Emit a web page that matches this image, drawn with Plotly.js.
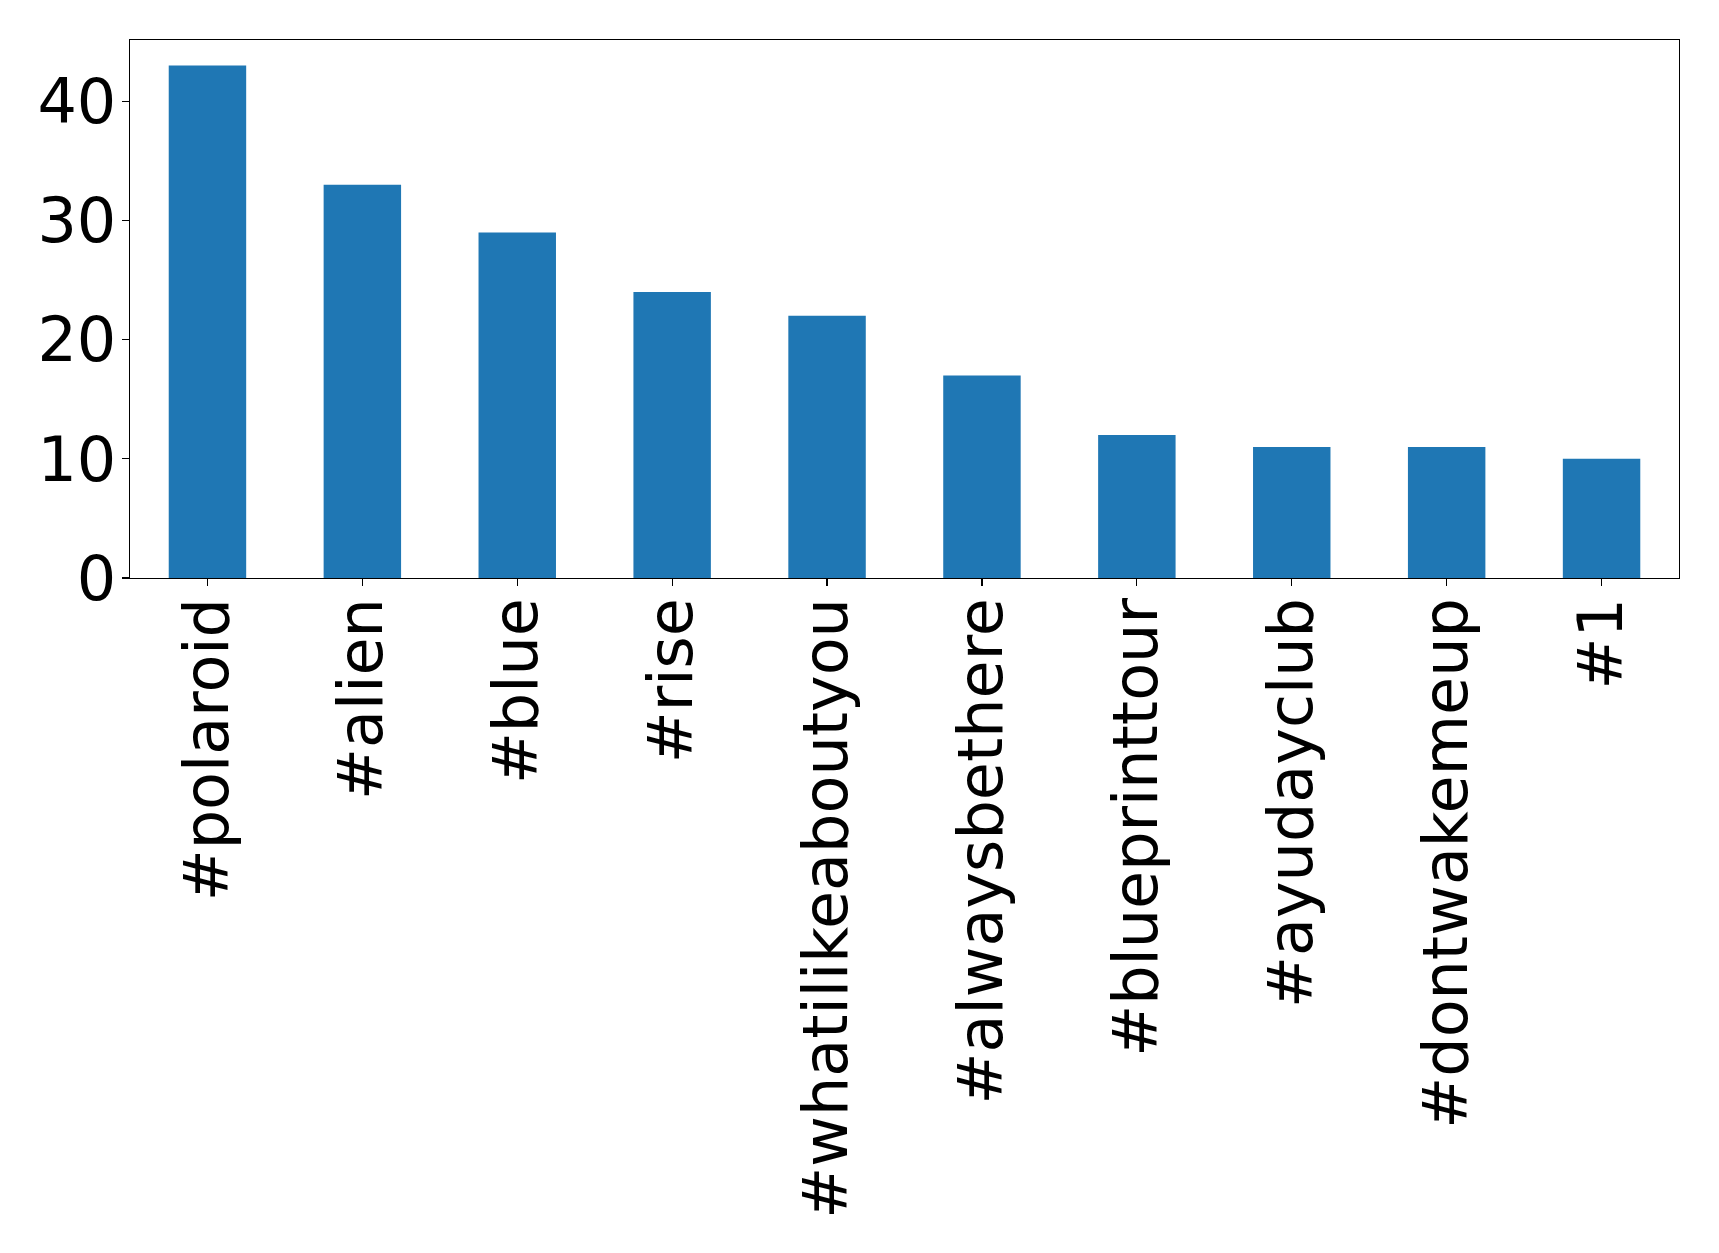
<!DOCTYPE html>
<html>
<head>
<meta charset="utf-8">
<script src="https://cdn.plot.ly/plotly-3.0.1.min.js"></script>
<style>html,body{margin:0;padding:0;background:#fff;}#chart{width:1719px;height:1253px;}</style>
</head>
<body>
<div id="chart"></div>
<script>
const categories = ["#polaroid", "#alien", "#blue", "#rise", "#whatilikeaboutyou", "#alwaysbethere", "#blueprinttour", "#ayudayclub", "#dontwakemeup", "#1"];
const counts = [43, 33, 29, 24, 22, 17, 12, 11, 11, 10];
const yTicks = [0, 10, 20, 30, 40];

const trace = {
  type: "bar",
  x: categories,
  y: counts,
  width: 0.5,
  marker: {color: "#1f77b4", line: {width: 0}},
  hoverinfo: "x+y"
};

const layout = {
  width: 1719,
  height: 1253,
  paper_bgcolor: "#ffffff",
  plot_bgcolor: "#ffffff",
  showlegend: false,
  margin: {l: 130, r: 40, t: 40, b: 675, pad: 0},
  font: {family: "DejaVu Sans", color: "#000000", size: 62},
  bargap: 0.5,
  xaxis: {
    type: "category",
    range: [-0.5, 9.5],
    tickangle: -90,
    ticks: "outside",
    ticklen: 7,
    tickwidth: 1.3,
    tickcolor: "#000",
    ticklabelstandoff: -13,
    showline: true,
    linecolor: "#000",
    linewidth: 1.3,
    mirror: true,
    showgrid: false,
    zeroline: false,
    tickfont: {family: "DejaVu Sans", size: 62, color: "#000"},
    automargin: false
  },
  yaxis: {
    range: [0, 45.15],
    tickvals: yTicks,
    ticktext: yTicks.map(String),
    ticks: "outside",
    ticklen: 7,
    tickwidth: 1.3,
    tickcolor: "#000",
    ticklabelstandoff: -7,
    showline: true,
    linecolor: "#000",
    linewidth: 1.3,
    mirror: true,
    showgrid: false,
    zeroline: false,
    tickfont: {family: "DejaVu Sans", size: 62, color: "#000"},
    automargin: false
  }
};

Plotly.newPlot("chart", [trace], layout, {displayModeBar: false, staticPlot: true});
</script>
</body>
</html>
